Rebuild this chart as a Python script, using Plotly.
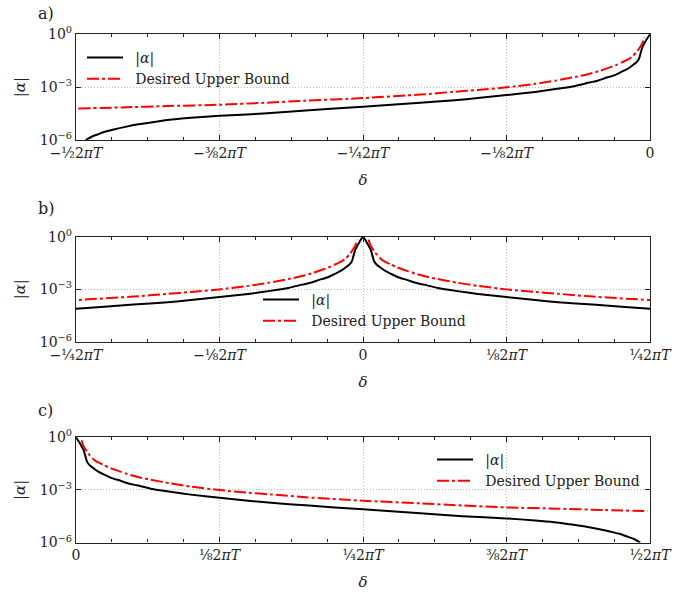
import plotly.graph_objects as go
from plotly.subplots import make_subplots

# ---------------- data ----------------
# delta in units of 2*pi*T, |alpha| and desired bound as log10 values
alpha_delta = [0.0, 0.003, 0.0066, 0.0085, 0.0096, 0.012, 0.0154, 0.019, 0.0241,
               0.030, 0.0387, 0.045, 0.053, 0.065, 0.0822, 0.100, 0.125, 0.150,
               0.170, 0.200, 0.250, 0.300, 0.3366, 0.375, 0.400, 0.4167, 0.430,
               0.4457, 0.456, 0.466, 0.474, 0.481, 0.486, 0.4915]
alpha_log10 = [0.0, -0.30, -0.73, -1.15, -1.39, -1.60, -1.77, -1.94, -2.11,
               -2.30, -2.48, -2.62, -2.74, -2.93, -3.11, -3.27, -3.45, -3.62,
               -3.74, -3.88, -4.11, -4.33, -4.50, -4.63, -4.74, -4.84, -4.96,
               -5.11, -5.24, -5.39, -5.52, -5.68, -5.80, -6.00]

bound_delta = [0.0048, 0.0066, 0.0096, 0.012, 0.0154, 0.019, 0.0241, 0.030,
               0.0387, 0.045, 0.053, 0.065, 0.0822, 0.100, 0.125, 0.150, 0.170,
               0.200, 0.250, 0.300, 0.3366, 0.375, 0.420, 0.460, 0.498]
bound_log10 = [-0.17, -0.50, -0.82, -1.03, -1.26, -1.42, -1.58, -1.76,
               -1.96, -2.10, -2.25, -2.42, -2.63, -2.81, -3.01, -3.16, -3.26,
               -3.42, -3.62, -3.77, -3.89, -4.00, -4.07, -4.15, -4.21]

alpha_vals = [10 ** v for v in alpha_log10]
bound_vals = [10 ** v for v in bound_log10]

# tick labels
ticks_a = [-0.5, -0.375, -0.25, -0.125, 0.0]
labels_a = ["−½2<i>πT</i>", "−⅜2<i>πT</i>", "−¼2<i>πT</i>", "−⅛2<i>πT</i>", "0"]
ticks_b = [-0.25, -0.125, 0.0, 0.125, 0.25]
labels_b = ["−¼2<i>πT</i>", "−⅛2<i>πT</i>", "0", "⅛2<i>πT</i>", "¼2<i>πT</i>"]
ticks_c = [0.0, 0.125, 0.25, 0.375, 0.5]
labels_c = ["0", "⅛2<i>πT</i>", "¼2<i>πT</i>", "⅜2<i>πT</i>", "½2<i>πT</i>"]
ytick_vals = [1e-6, 1e-3, 1e0]
ytick_text = ["10<sup>−6</sup>", "10<sup>−3</sup>", "10<sup>0</sup>"]

series_names = ["\u00a0\u2009|<i>α</i>|", "\u00a0\u2009Desired Upper Bound"]

# ---------------- layout geometry ----------------
W, H = 694, 593
ML, MR, MT, MB = 76, 44, 34, 50
PW, PH = W - ML - MR, H - MT - MB


def px2y(py):
    return (H - MB - py) / PH


def px2x(px):
    return (px - ML) / PW


FONT = "DejaVu Serif, Liberation Serif, serif"
INK = "#222222"
BLACK = "#000000"
RED = "#ff0000"

fig = make_subplots(rows=3, cols=1)

# panel a: negative side
neg_a_x = [-d for d in alpha_delta][::-1]
neg_a_y = alpha_vals[::-1]
neg_b_x = [-d for d in bound_delta][::-1]
neg_b_y = bound_vals[::-1]

# panel b: symmetric
sym_a_x = neg_a_x + alpha_delta[1:]
sym_a_y = neg_a_y + alpha_vals[1:]
sym_b_x = neg_b_x + [None] + bound_delta
sym_b_y = neg_b_y + [None] + bound_vals

panels = [
    (neg_a_x, neg_a_y, neg_b_x, neg_b_y, "legend"),
    (sym_a_x, sym_a_y, sym_b_x, sym_b_y, "legend2"),
    (alpha_delta, alpha_vals, bound_delta, bound_vals, "legend3"),
]
for i, (ax, ay, bx, by, lg) in enumerate(panels, start=1):
    fig.add_trace(go.Scatter(x=ax, y=ay, mode="lines", name=series_names[0],
                             line=dict(color=BLACK, width=2, shape="spline", smoothing=0.6),
                             legend=lg, connectgaps=False), row=i, col=1)
    fig.add_trace(go.Scatter(x=bx, y=by, mode="lines", name=series_names[1],
                             line=dict(color=RED, width=2, dash="12px,3px,3px,3px",
                                       shape="spline", smoothing=0.6),
                             legend=lg, connectgaps=False), row=i, col=1)

domains = [
    [px2y(140), px2y(34.3)],
    [px2y(341.7), px2y(236.7)],
    [px2y(542.5), px2y(437.3)],
]
xranges = [[-0.5, 0.0], [-0.25, 0.25], [0.0, 0.5]]
xticks = [(ticks_a, labels_a), (ticks_b, labels_b), (ticks_c, labels_c)]

axis_common = dict(showline=True, linecolor=INK, linewidth=1.3, mirror="ticks",
                   ticks="inside", ticklen=5, tickcolor=INK, tickwidth=1.2,
                   showgrid=True, gridcolor="#bbbbbb", griddash="1px,2px", gridwidth=1,
                   zeroline=False, automargin=False,
                   tickfont=dict(family=FONT, size=14, color=INK))

for i in range(3):
    xa = "xaxis" if i == 0 else f"xaxis{i + 1}"
    ya = "yaxis" if i == 0 else f"yaxis{i + 1}"
    tv, tt = xticks[i]
    fig.layout[xa].update(
        range=xranges[i], tickmode="array", tickvals=tv, ticktext=tt,
        minor=dict(ticks="inside", ticklen=3, tickcolor=INK, dtick=1 / 32,
                   tick0=0, showgrid=False),
        title=dict(text="<i>δ</i>", font=dict(family=FONT, size=15, color=INK),
                   standoff=14),
        **axis_common)
    fig.layout[ya].update(
        type="log", range=[-6, 0], tickmode="array", tickvals=ytick_vals,
        ticktext=ytick_text, domain=domains[i],
        title=dict(text="|<i>α</i>|", font=dict(family=FONT, size=15, color=INK),
                   standoff=10),
        **axis_common)

legend_common = dict(bgcolor="rgba(0,0,0,0)", borderwidth=0, xanchor="left",
                     yanchor="top", font=dict(family=FONT, size=14, color=INK),
                     tracegroupgap=0, itemwidth=36)
fig.update_layout(
    legend=dict(x=px2x(82), y=px2y(42), **legend_common),
    legend2=dict(x=px2x(258), y=px2y(284), **legend_common),
    legend3=dict(x=px2x(432), y=px2y(444), **legend_common),
)

for lab, py in [("a)", 13), ("b)", 208), ("c)", 410)]:
    fig.add_annotation(text=lab, xref="paper", yref="paper", x=px2x(36), y=px2y(py),
                       xanchor="left", yanchor="middle", showarrow=False,
                       font=dict(family=FONT, size=16, color=INK))

fig.update_layout(width=W, height=H, margin=dict(l=ML, r=MR, t=MT, b=MB),
                  plot_bgcolor="white", paper_bgcolor="white", showlegend=True)

fig.write_html("out.html", config={"displayModeBar": False},
               post_script="document.body.style.margin='0';")
